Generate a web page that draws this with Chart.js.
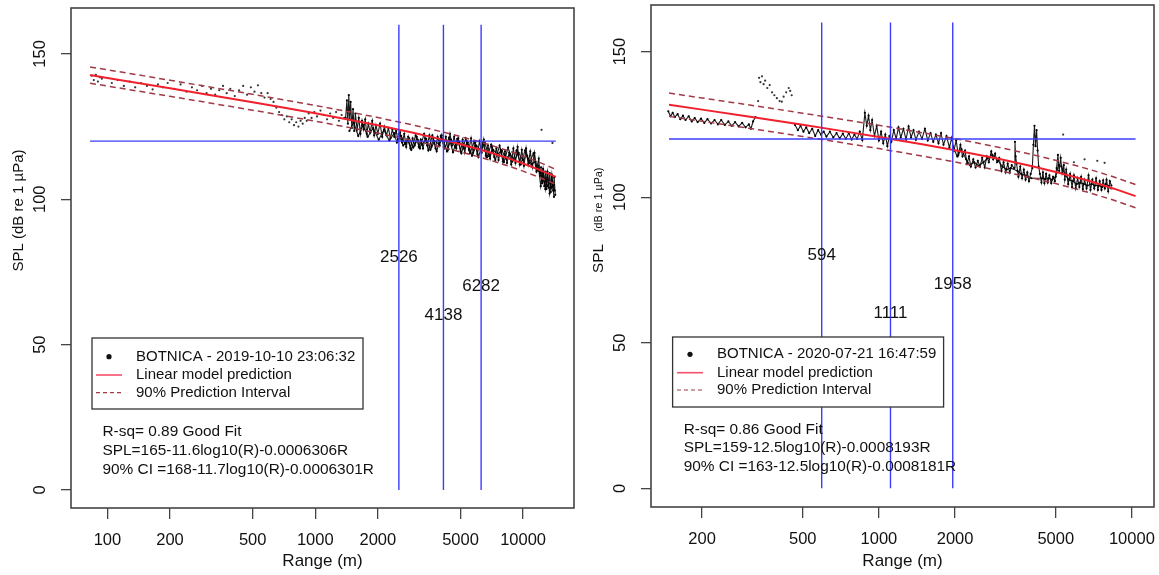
<!DOCTYPE html>
<html><head><meta charset="utf-8">
<script src="https://cdn.jsdelivr.net/npm/chart.js@4.4.1/dist/chart.umd.min.js"></script>
<style>
html,body{margin:0;padding:0;background:#fff;width:1159px;height:575px;overflow:hidden}
canvas{position:absolute;top:0}
#c1{left:0}
#c2{left:580px}
</style></head><body>
<canvas id="c1" width="580" height="575"></canvas>
<canvas id="c2" width="579" height="575"></canvas>
<script>
// ---------- shared values ----------
const threshold = 120;            // horizontal blue reference line (dB)
const markSpan = [0, 160];        // vertical blue lines run between these SPL values
const yTicks = [0, 50, 100, 150];
const xTicksLeft = [100, 200, 500, 1000, 2000, 5000, 10000];
const xTicksRight = [200, 500, 1000, 2000, 5000, 10000];
const legendLabelsLeft = ['BOTNICA - 2019-10-10 23:06:32', 'Linear model prediction', '90% Prediction Interval'];
const legendLabelsRight = ['BOTNICA - 2020-07-21 16:47:59', 'Linear model prediction', '90% Prediction Interval'];
const statsLeft = ['R-sq= 0.89 Good Fit', 'SPL=165-11.6log10(R)-0.0006306R', '90% CI =168-11.7log10(R)-0.0006301R'];
const statsRight = ['R-sq= 0.86 Good Fit', 'SPL=159-12.5log10(R)-0.0008193R', '90% CI =163-12.5log10(R)-0.0008181R'];

// ---------- left panel (2019-10-10) ----------
const leftSparseR = [84,86,88,90,92,94,105,112,120,128,136,145,155,165,175,185,195,210,225,240,255,270,285,300,315,330,345,360,375,390,410,430,450,470,490,510,530,550,570,590,610,630,650,670,690,710,730,750,770,790,810,830,850,870,890,910,930,960,990,1020,1060,1100,1140,1180,1220,1260,1300,1340,1380,12270,13850];
const leftSparseSPL = [142.5,141,142.8,140.5,142,141.5,140,141,139,140.5,138.5,140,139,137.8,139.5,138.5,140,138,139.5,137,138.5,137.5,139,136.5,138,136,137.5,139,136.5,138,135.5,137.5,139,136,138.5,137,139.2,136.5,135,136.5,134.5,133.5,131.5,130,129,127.5,128.5,126.5,127.5,125.5,126.5,125,127,126,128,127,129.5,128,130,128.5,130.5,129,127.5,129.5,128,130,127,129,128,123.9,119.4];
const leftTraceR = [1400,1420,1435,1450,1465,1480,1500,1520,1540,1560,1590,1620,1650,1680,1710,1740,1770,1800,1840,1880,1920,1960,2000,2050,2100,2150,2200,2250,2300,2350,2400,2450,2500,2560,2620,2680,2740,2800,2870,2940,3010,3080,3150,3220,3300,3380,3460,3540,3620,3700,3790,3880,3970,4060,4150,4250,4350,4450,4550,4660,4770,4880,5000,5120,5240,5360,5490,5620,5750,5890,6030,6170,6320,6470,6620,6780,6940,7100,7270,7440,7620,7800,7990,8180,8370,8570,8770,8980,9190,9410,9630,9860,10100,10340,10580,10830,11090,11350,11620,11900,12050,12200,12350,12500,12650,12800,12960,13120,13280,13440,13600,13770,13940,14110,14280];
const leftTraceSPL = [128,134,126,135.8,127.5,133.5,124.5,131,123.5,129.5,124,128,122.5,127,124,127.5,122.5,126,123,127,122,125.5,122.5,126,121.5,125,122,124.5,121,124,121.5,123.5,120.5,123,119.5,122.5,118,121.5,117.5,121,118.5,121.5,118,120.5,117.5,121,118.5,122,118,121,117.5,121.5,118.5,122,118,121.5,117,122.5,118.5,121.5,117.5,121,116.5,120.5,116,120,117,121,116,119.5,115.5,120,116,120.5,115,118.5,114,118,114.5,117.5,113.5,117,113,116.5,112.5,116,112,117.5,112.5,118,112,117,111.5,117.5,112,116.5,111,116,110.5,114,108,111,105.5,110,104.5,109.5,103.5,108.5,104,109,102.5,108,103,107.5,101.5];
const leftTrace2R = [1460,1530,1610,1700,1790,1900,2020,2140,2270,2400,2470,2590,2710,2830,2960,3110,3260,3420,3580,3750,3930,4110,4300,4500,4710,4930,5180,5420,5680,5960,6240,6540,6860,7180,7530,7900,8280,8670,9080,9520,9970,10460,10960,11480,11760,12120,12420,12720,13040,13360,13690,14020,14200];
const leftTrace2SPL = [123.5,126.5,121.8,125.5,121.5,124.5,120.5,123.8,120.2,122.8,119.5,121.8,119,121,117.8,120.5,118.8,120.8,117,120,119,120.8,116.5,120.5,118,119.8,117.5,119.5,115,118.5,117,119.5,114.8,117,115.5,116.8,114,115.5,113.5,116,113.5,115,112,113,110,109,106,107,104.5,106,104,105,103];
const leftTrace3R = [2520,2650,2780,2900,3040,3190,3340,3500,3660,3840,4020,4200,4400,4600,4820,5050,5300,5550,5820,6100,6390,6700,7020,7350,7710,8090,8470,8880,9300,9750,10220,10710,11220,11600,11850,12160,12480,12790,13100,13420,13750,14080];
const leftTrace3SPL = [122.5,118.5,120.5,117,122,117.5,122.5,116.8,122,116.5,121.8,117.5,121.2,116.2,120.8,115.8,121,115.8,119.8,114.5,119.5,114.5,118.8,113.5,118.5,112.8,117.8,113,116.8,112,116.8,112.5,115.8,109.5,111.5,104.5,110.5,103.5,109.5,102,108.5,100.8];
const leftFitR = [82.5,100,150,200,300,500,700,1000,1500,2000,3000,4000,5000,6000,7000,8500,10000,12000,14380];
const leftFitSPL = [142.72,141.74,139.66,138.18,136.08,133.37,131.56,129.57,127.21,125.45,122.78,120.70,118.94,117.39,115.99,114.06,112.29,110.11,107.70];
const leftUpperSPL = [145.53,144.54,142.45,140.95,138.83,136.11,134.27,132.27,129.90,128.12,125.43,123.34,121.57,120.02,118.60,116.67,114.90,112.71,110.29];
const leftLowerSPL = [139.91,138.94,136.87,135.41,133.33,130.63,128.85,126.87,124.52,122.78,120.13,118.06,116.31,114.76,113.38,111.45,109.68,107.51,105.11];
const leftThresholdR = [82.5, 14380];
const leftMarks = [2526, 4138, 6282];
const leftMarkLabelSPL = [80, 60, 70];

// ---------- right panel (2020-07-21) ----------
const rightSparseR = [333,336,340,345,350,355,362,370,378,386,395,405,413,420,430,440,446,452,5350,5900,6500,7300,7800];
const rightSparseSPL = [133,141,139.5,141.5,138.8,140,137.5,138.5,136,135,134,133,132.8,134.5,136,137.5,136.5,135,121.5,112,113,112.5,111.8];
const rightNearR = [147,150,153,156,160,164,168,172,177,182,187,192,198,204,210,217,224,231,238,246,254,262,270,279,288,297,306,312,318,325];
const rightNearSPL = [129.5,127.8,129,127.5,128.5,126.8,128,126.5,127.8,126,127.2,125.8,127,125.5,126.8,125.3,126.5,125,126.5,124.8,126,124.5,125.8,124.3,125.5,124,125,123.5,126,127.5];
const rightFarR = [466,478,490,503,516,530,545,560,575,590,605,620,640,660,680,700,720,740,760,780,800,820,840,860,880,895,910,925,940,960,980,1000,1020,1040,1060,1080,1100,1120,1145,1170,1195,1220,1250,1280,1310,1340,1370,1400,1440,1480,1520,1560,1600,1640,1680,1720,1760,1800,1850,1900,1940,1980,2020,2060,2100,2140,2190,2230,2270,2310,2360,2410,2460,2510,2560,2620,2670,2720,2780,2830,2880,2930,2990,3050,3110,3170,3230,3290,3350,3420,3450,3470,3500,3560,3620,3680,3740,3800,3860,3920,3980,4040,4080,4120,4160,4200,4240,4280,4330,4390,4450,4510,4580,4650,4720,4800,4880,4960,5040,5100,5160,5230,5300,5380,5430,5500,5600,5700,5800,5900,6000,6100,6200,6300,6400,6500,6620,6740,6860,6980,7100,7220,7340,7460,7580,7700,7820,7940,8060,8180,8300];
const rightFarSPL = [124.8,123,124.5,122.5,124,122,123.5,121,123,121.5,122.5,120.8,122.5,120.5,122,120.2,121.8,120,122,119.8,121.5,120,122.5,119.6,129,124.5,128,123,126.5,121,124.5,119.5,122.5,118.5,121.5,117.5,121,119,123,120,124,120.5,123.5,119.8,124.3,120.5,123,119.7,122.5,120,123.5,119.5,122,119,121.5,118.5,122,118,121,117,120.4,116,119.5,114.5,118,114,116,111.5,114,110.5,113,110.2,112.5,110.5,113.5,110.2,114,112,115.7,113,115,112,113.5,109,112,108.5,111.5,108.4,111,110,119,114,111.5,107,110.5,106.5,109.5,106,108.5,105.5,108,110,118,124.5,117.5,123,116,110.5,108,105,108.5,104.8,108,105,107.5,104.8,107,105.5,110,114.5,109,113.5,108.3,111,106,109.5,104.5,108,103.5,107.5,103,106.5,103.5,107,102.8,106,103,107.5,102.5,106,103,106.5,102.5,105.5,102.5,105.8,103,106,102,105.5,104];
const rightFar2R = [1960,2040,2120,2210,2290,2380,2480,2590,2700,2810,2960,3080,3200,3320,3530,3650,3770,3890,4010,4420,4540,4680,4840,5000,5130,5270,5460,5650,5850,6050,6250,6450,6680,6920,7160,7400,7640,7880,8120,8280];
const rightFar2SPL = [117.5,114,116.5,113,111,112,110.8,112,113.5,114.5,112.5,110.5,109.5,110,109,108,107.5,107,106.5,106.5,106.2,106.5,106,107,111,110.5,107.5,106,105.5,104.5,105,104.5,104,104.5,104,104,103.5,104.5,103.8,103];
const rightFitR = [148,200,300,500,700,1000,1500,2000,3000,4000,5000,6000,7000,8500,10340];
const rightFitSPL = [131.75,130.07,127.79,124.85,122.86,120.68,118.07,116.10,113.08,110.70,108.67,106.86,105.20,102.92,100.35];
const rightUpperSPL = [135.75,134.07,131.79,128.85,126.86,124.68,122.07,120.10,117.08,114.70,112.67,110.86,109.20,106.91,104.34];
const rightLowerSPL = [127.75,126.07,123.79,120.85,118.86,116.68,114.07,112.10,109.08,106.70,104.67,102.86,101.20,98.93,96.36];
const rightThresholdR = [148, 10340];
const rightMarks = [594, 1111, 1958];
const rightMarkLabelSPL = [80, 60, 70];

// ---------- styling ----------
const FONT = '"Liberation Sans", Arial, Helvetica, sans-serif';
const RED = '#f0202c';
const DRED = '#a23a46';
const BLUE = '#3c3cff';
const INK = '#111';

function pts(xs, ys) { return xs.map((x, i) => ({ x: x, y: ys[i] })); }

function decor(P) {
  return {
    id: 'decor' + P.id,
    afterDatasetsDraw(chart) {
      const ctx = chart.ctx, a = chart.chartArea;
      const xs = chart.scales.x, ys = chart.scales.y;
      ctx.save();
      ctx.fillStyle = INK;
      ctx.font = '17px ' + FONT;
      ctx.textAlign = 'center';
      ctx.textBaseline = 'middle';
      P.marks.forEach((m, i) => {
        ctx.fillText(String(m), xs.getPixelForValue(m), ys.getPixelForValue(P.markLabelSPL[i]));
      });
      const L = P.legend;
      ctx.fillStyle = '#fff';
      ctx.fillRect(L.x, L.y, L.w, L.h);
      ctx.strokeStyle = '#333';
      ctx.lineWidth = 1.3;
      ctx.strokeRect(L.x, L.y, L.w, L.h);
      ctx.fillStyle = INK;
      ctx.beginPath();
      ctx.arc(L.dotX, L.rows[0], 2.6, 0, Math.PI * 2);
      ctx.fill();
      ctx.strokeStyle = '#f5506a';
      ctx.lineWidth = 1.6;
      ctx.beginPath(); ctx.moveTo(L.s0, L.rows[1]); ctx.lineTo(L.s1, L.rows[1]); ctx.stroke();
      ctx.strokeStyle = DRED;
      ctx.lineWidth = 1.2;
      ctx.setLineDash([4, 3]);
      ctx.beginPath(); ctx.moveTo(L.s0, L.rows[2]); ctx.lineTo(L.s1, L.rows[2]); ctx.stroke();
      ctx.setLineDash([]);
      ctx.font = '15px ' + FONT;
      ctx.textAlign = 'left';
      ctx.fillStyle = INK;
      P.legendLabels.forEach((t, i) => ctx.fillText(t, L.textX, L.rows[i]));
      ctx.font = '15.4px ' + FONT;
      P.stats.forEach((t, i) => ctx.fillText(t, P.statsX, P.statsY[i]));
      ctx.strokeStyle = '#444';
      ctx.lineWidth = 1.6;
      ctx.strokeRect(a.left, a.top, a.right - a.left, a.bottom - a.top);
      ctx.fillStyle = INK;
      ctx.textBaseline = 'middle';
      if (P.id === 'L') {
        ctx.translate(19, 271.5);
        ctx.rotate(-Math.PI / 2);
        ctx.font = '15px ' + FONT;
        ctx.textAlign = 'left';
        ctx.fillText('SPL (dB re 1 \u00b5Pa)', 0, 0);
      } else {
        ctx.translate(19, 273);
        ctx.rotate(-Math.PI / 2);
        ctx.font = '15.3px ' + FONT;
        ctx.textAlign = 'left';
        ctx.fillText('SPL', 0, 0);
        ctx.font = '10.8px ' + FONT;
        ctx.fillText('(dB re 1 \u00b5Pa)', 41, 0);
      }
      ctx.restore();
    }
  };
}

function build(canvasId, P) {
  const lineDs = (data, color, width, dash, order) => ({
    data, showLine: true, borderColor: color, borderWidth: width, borderDash: dash || [],
    pointRadius: 0, pointHoverRadius: 0, order, fill: false, tension: 0
  });
  const datasets = [];
  P.traces.forEach(tr => datasets.push({
    data: pts(tr[0], tr[1]), showLine: true, borderColor: 'rgba(0,0,0,0.9)', borderWidth: 1.1,
    pointRadius: 1.1, pointBackgroundColor: '#000', pointBorderWidth: 0, order: 8, tension: 0
  }));
  datasets.push({
    data: pts(P.sparseR, P.sparseSPL), showLine: false, pointRadius: 1.1,
    pointBackgroundColor: '#333', pointBorderWidth: 0, order: 9
  });
  datasets.push(lineDs(pts(P.fitR, P.fitSPL), RED, 2, null, 4));
  datasets.push(lineDs(pts(P.fitR, P.upperSPL), DRED, 1.5, [6, 4], 5));
  datasets.push(lineDs(pts(P.fitR, P.lowerSPL), DRED, 1.5, [6, 4], 5));
  datasets.push(lineDs(pts(P.thresholdR, [threshold, threshold]), BLUE, 1.4, null, 2));
  P.marks.forEach(m => datasets.push(lineDs(pts([m, m], markSpan), BLUE, 1.4, null, 2)));

  return new Chart(document.getElementById(canvasId), {
    type: 'scatter',
    data: { datasets },
    options: {
      responsive: false, animation: false, devicePixelRatio: 1,
      layout: { padding: { left: 0, top: P.top, right: P.right, bottom: 0 } },
      plugins: { legend: { display: false }, tooltip: { enabled: false } },
      events: [],
      scales: {
        x: {
          type: 'logarithmic', min: P.xMin, max: P.xMax, bounds: 'data',
          afterBuildTicks: s => { s.ticks = P.xTicks.map(v => ({ value: v })); },
          afterFit: s => { s.height = P.xAxisH; s.paddingLeft = 0; s.paddingRight = 0; },
          grid: { display: true, drawOnChartArea: false, drawTicks: true, tickLength: 11, color: '#444', lineWidth: 1.3 },
          border: { display: false },
          ticks: {
            autoSkip: false, maxRotation: 0, minRotation: 0, padding: 11.5, color: INK,
            font: { family: FONT, size: 16.5 }, callback: v => String(v)
          },
          title: { display: true, text: 'Range (m)', color: INK, font: { family: FONT, size: 17 }, padding: { top: 0, bottom: 3 } }
        },
        y: {
          type: 'linear', min: P.yMin, max: P.yMax, bounds: 'data',
          afterBuildTicks: s => { s.ticks = yTicks.map(v => ({ value: v })); },
          afterFit: s => { s.width = 71; s.paddingTop = 0; s.paddingBottom = 0; },
          grid: { display: true, drawOnChartArea: false, drawTicks: true, tickLength: 10, color: '#444', lineWidth: 1.3 },
          border: { display: false },
          ticks: {
            minRotation: 90, maxRotation: 90, crossAlign: 'center', padding: 6.5, color: INK,
            font: { family: FONT, size: 16.5 }, callback: v => String(v)
          }
        }
      }
    },
    plugins: [decor(P)]
  });
}

build('c1', {
  id: 'L', top: 8, right: 6, xAxisH: 67,
  xMin: 66.8, xMax: 17580, yMin: -6.2, yMax: 165.8, xTicks: xTicksLeft,
  traces: [[leftTraceR, leftTraceSPL], [leftTrace2R, leftTrace2SPL], [leftTrace3R, leftTrace3SPL]],
  sparseR: leftSparseR, sparseSPL: leftSparseSPL,
  fitR: leftFitR, fitSPL: leftFitSPL, upperSPL: leftUpperSPL, lowerSPL: leftLowerSPL,
  thresholdR: leftThresholdR, marks: leftMarks, markLabelSPL: leftMarkLabelSPL,
  legendLabels: legendLabelsLeft, stats: statsLeft,
  legend: { x: 92, y: 338, w: 271, h: 71, rows: [356.7, 375, 392.7], dotX: 109, s0: 96, s1: 122, textX: 136 },
  statsX: 102.5, statsY: [431.7, 450.7, 469.3]
});

build('c2', {
  id: 'R', top: 5, right: 5, xAxisH: 68,
  xMin: 125.6, xMax: 12230, yMin: -6.4, yMax: 166.0, xTicks: xTicksRight,
  traces: [[rightNearR, rightNearSPL], [rightFarR, rightFarSPL], [rightFar2R, rightFar2SPL]],
  sparseR: rightSparseR, sparseSPL: rightSparseSPL,
  fitR: rightFitR, fitSPL: rightFitSPL, upperSPL: rightUpperSPL, lowerSPL: rightLowerSPL,
  thresholdR: rightThresholdR, marks: rightMarks, markLabelSPL: rightMarkLabelSPL,
  legendLabels: legendLabelsRight, stats: statsRight,
  legend: { x: 92.6, y: 337, w: 271, h: 70, rows: [354.3, 372.7, 390], dotX: 110, s0: 97, s1: 123, textX: 137 },
  statsX: 103.7, statsY: [429.3, 447.7, 466.7]
});
</script>
</body></html>
